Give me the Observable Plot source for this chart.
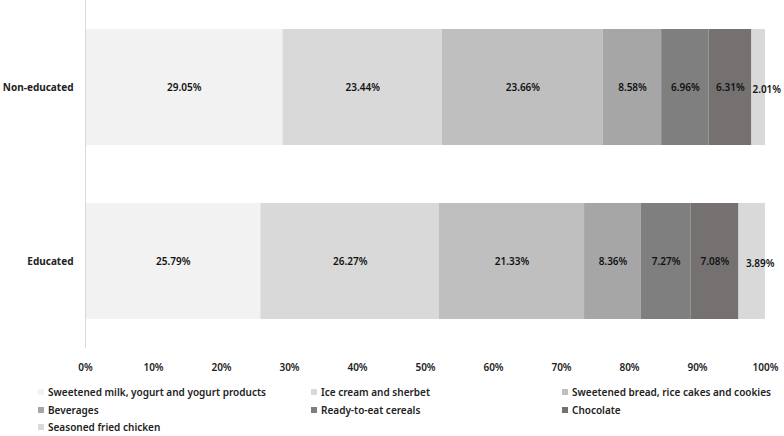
<!DOCTYPE html>
<html>
<head>
<meta charset="utf-8">
<script src="https://cdn.jsdelivr.net/npm/d3@7"></script>
<script src="https://cdn.jsdelivr.net/npm/@observablehq/plot@0.6"></script>
<style>
  html, body { margin: 0; padding: 0; background: #fff; }
  body { width: 784px; height: 436px; overflow: hidden; font-family: "Noto Sans", "Open Sans", sans-serif; }
  #chart svg { overflow: visible; }
  #legend { position: relative; width: 784px; height: 56px; font-size: 10px; font-weight: 600; color: #222; }
  .item { position: absolute; display: flex; align-items: center; white-space: nowrap; }
  .sw { width: 6px; height: 6px; margin-right: 4px; }
</style>
</head>
<body>
<div id="chart"></div>
<div id="legend"></div>
<script>
const groups = ["Non-educated", "Educated"];
const categories = [
  "Sweetened milk, yogurt and yogurt products",
  "Ice cream and sherbet",
  "Sweetened bread, rice cakes and cookies",
  "Beverages",
  "Ready-to-eat cereals",
  "Chocolate",
  "Seasoned fried chicken"
];
const nonEducated = [29.05, 23.44, 23.66, 8.58, 6.96, 6.31, 2.01];
const educated = [25.79, 26.27, 21.33, 8.36, 7.27, 7.08, 3.89];
const colors = ["#f2f2f2", "#d9d9d9", "#bfbfbf", "#a6a6a6", "#7f7f7f", "#767171", "#d9d9d9"];
const xTicks = [0, 10, 20, 30, 40, 50, 60, 70, 80, 90, 100];

const values = [nonEducated, educated];
const data = groups.flatMap((g, gi) =>
  categories.map((c, ci) => ({group: g, category: c, value: values[gi][ci]}))
);
const last = categories[categories.length - 1];
const fmt = v => v.toFixed(2) + "%";

const chart = Plot.plot({
  width: 784,
  height: 380,
  marginLeft: 85,
  marginRight: 19,
  marginTop: 0,
  marginBottom: 32,
  style: {fontFamily: "'Noto Sans', 'Open Sans', sans-serif", fontSize: "10px", color: "#222", background: "#fff"},
  x: {domain: [0, 100]},
  y: {domain: groups, paddingInner: 1/3, paddingOuter: 1/6},
  color: {domain: categories, range: colors},
  marks: [
    Plot.barX(data, Plot.stackX({x: "value", y: "group", fill: "category", order: null})),
    Plot.text(data, Plot.stackX({
      x: "value", y: "group", order: null,
      text: d => d.category === last ? null : fmt(d.value),
      fontSize: 10, fontWeight: 600, fill: "#111"
    })),
    Plot.text(data, Plot.stackX({
      x: "value", y: "group", order: null,
      text: d => d.category === last ? fmt(d.value) : null,
      fontSize: 10, fontWeight: 600, fill: "#111", dx: 8, dy: 2
    })),
    Plot.ruleX([0], {stroke: "#d9d9d9"}),
    Plot.axisX({ticks: xTicks, tickSize: 0, tickPadding: 15, tickFormat: d => d + "%", label: null, fontWeight: 600, fontSize: 10}),
    Plot.axisY({tickSize: 0, tickPadding: 12, label: null, fontWeight: 700, fontSize: 10})
  ]
});
document.getElementById("chart").appendChild(chart);

const legend = document.getElementById("legend");
const colX = [38, 311, 562];
categories.forEach((c, i) => {
  const item = document.createElement("div");
  item.className = "item";
  item.style.left = colX[i % 3] + "px";
  item.style.top = (5 + Math.floor(i / 3) * 17.5) + "px";
  const sw = document.createElement("span");
  sw.className = "sw";
  sw.style.background = colors[i];
  const t = document.createElement("span");
  t.textContent = c;
  item.appendChild(sw);
  item.appendChild(t);
  legend.appendChild(item);
});
</script>
</body>
</html>
